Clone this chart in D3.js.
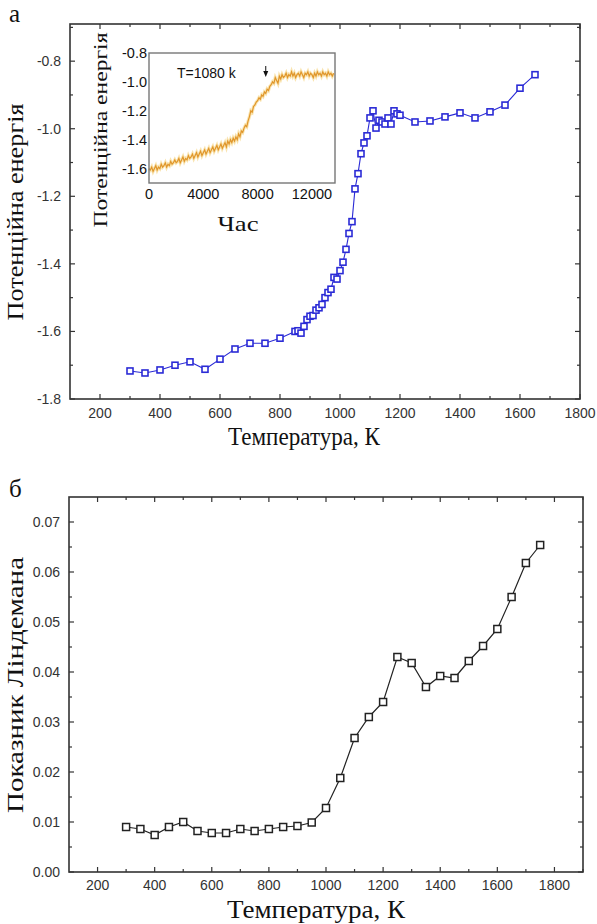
<!DOCTYPE html>
<html>
<head>
<meta charset="utf-8">
<script src="https://cdn.jsdelivr.net/npm/d3@7"></script>
<style>
  html, body { margin: 0; padding: 0; background: #fff; }
  svg { display: block; }
  .tick-lbl { font-family: Arial, "Liberation Sans", sans-serif; font-size: 14px; fill: #333; }
  .serif { font-family: "Liberation Serif", "Times New Roman", serif; fill: #111; }
</style>
</head>
<body>
<svg id="fig" width="597" height="924"></svg>
<script>
// Panel (а): potential energy vs temperature
const tempA = [300, 350, 400, 450, 500, 550, 600, 650, 700, 750, 800, 850, 860, 870, 880, 890, 900, 910, 920, 930, 940, 950, 960, 970, 980, 990, 1000, 1010, 1020, 1030, 1040, 1050, 1060, 1070, 1080, 1090, 1100, 1110, 1120, 1130, 1140, 1150, 1160, 1170, 1180, 1190, 1200, 1250, 1300, 1350, 1400, 1450, 1500, 1550, 1600, 1650];
const energyA = [-1.717, -1.723, -1.714, -1.700, -1.690, -1.712, -1.682, -1.652, -1.635, -1.635, -1.620, -1.600, -1.598, -1.605, -1.585, -1.565, -1.555, -1.553, -1.537, -1.530, -1.520, -1.500, -1.485, -1.475, -1.440, -1.445, -1.420, -1.395, -1.357, -1.310, -1.275, -1.178, -1.133, -1.074, -1.042, -1.021, -0.968, -0.947, -0.998, -0.975, -0.980, -0.986, -0.968, -0.986, -0.947, -0.956, -0.960, -0.980, -0.977, -0.965, -0.953, -0.968, -0.950, -0.930, -0.880, -0.840];
const xTicksA = [200, 400, 600, 800, 1000, 1200, 1400, 1600, 1800];
const yTicksA = [-1.8, -1.6, -1.4, -1.2, -1.0, -0.8];

// Inset: energy vs simulation time at T = 1080 K
const timeIn = [
  0, 100, 200, 300, 400, 500, 600, 700, 800, 900, 1000,
  1100, 1200, 1300, 1400, 1500, 1600, 1700, 1800, 1900, 2000,
  2100, 2200, 2300, 2400, 2500, 2600, 2700, 2800, 2900, 3000,
  3100, 3200, 3300, 3400, 3500, 3600, 3700, 3800, 3900, 4000,
  4100, 4200, 4300, 4400, 4500, 4600, 4700, 4800, 4900, 5000,
  5100, 5200, 5300, 5400, 5500, 5600, 5700, 5800, 5900, 6000,
  6100, 6200, 6300, 6400, 6500, 6600, 6700, 6800, 6900, 7000,
  7100, 7200, 7300, 7400, 7500, 7600, 7700, 7800, 7900, 8000,
  8100, 8200, 8300, 8400, 8500, 8600, 8700, 8800, 8900, 9000,
  9100, 9200, 9300, 9400, 9500, 9600, 9700, 9800, 9900, 10000,
  10100, 10200, 10300, 10400, 10500, 10600, 10700, 10800, 10900, 11000,
  11100, 11200, 11300, 11400, 11500, 11600, 11700, 11800, 11900, 12000,
  12100, 12200, 12300, 12400, 12500, 12600, 12700, 12800, 12900, 13000,
  13100, 13200, 13300, 13400, 13500, 13600];
const energyIn = [
  -1.60, -1.61, -1.59, -1.62, -1.60, -1.58, -1.61, -1.59, -1.60, -1.57, -1.59,
  -1.58, -1.56, -1.59, -1.57, -1.58, -1.55, -1.57, -1.56, -1.54, -1.56,
  -1.55, -1.53, -1.56, -1.54, -1.52, -1.55, -1.53, -1.54, -1.51, -1.53,
  -1.52, -1.50, -1.53, -1.51, -1.49, -1.52, -1.50, -1.48, -1.51, -1.49,
  -1.47, -1.50, -1.48, -1.46, -1.49, -1.47, -1.45, -1.48, -1.46, -1.44,
  -1.47, -1.45, -1.43, -1.46, -1.44, -1.42, -1.45, -1.41, -1.43, -1.40,
  -1.42, -1.39, -1.41, -1.38, -1.40, -1.36, -1.38, -1.34, -1.35, -1.32,
  -1.30, -1.31, -1.27, -1.24, -1.20, -1.21, -1.17, -1.16, -1.14, -1.13,
  -1.11, -1.12, -1.09, -1.10, -1.07, -1.08, -1.05, -1.06, -1.03, -1.02,
  -1.00, -1.01, -0.97, -0.99, -1.01, -0.96, -0.98, -0.95, -0.97, -0.96,
  -0.94, -0.97, -0.95, -0.96, -0.93, -0.96, -0.94, -0.97, -0.95, -0.94,
  -0.96, -0.93, -0.95, -0.97, -0.94, -0.95, -0.93, -0.96, -0.94, -0.95,
  -0.97, -0.94, -0.96, -0.93, -0.95, -0.94, -0.96, -0.93, -0.95, -0.94,
  -0.96, -0.93, -0.95, -0.94, -0.96, -0.94];
const xTicksIn = [0, 4000, 8000, 12000];
const yTicksIn = [-1.6, -1.4, -1.2, -1.0, -0.8];

// Panel (б): Lindemann index vs temperature
const tempB = [300, 350, 400, 450, 500, 550, 600, 650, 700, 750, 800, 850, 900, 950, 1000, 1050, 1100, 1150, 1200, 1250, 1300, 1350, 1400, 1450, 1500, 1550, 1600, 1650, 1700, 1750];
const lindB = [0.0090, 0.0086, 0.0074, 0.0090, 0.0100, 0.0082, 0.0078, 0.0078, 0.0086, 0.0082, 0.0086, 0.0090, 0.0092, 0.0099, 0.0128, 0.0188, 0.0268, 0.0310, 0.0340, 0.0430, 0.0418, 0.0370, 0.0392, 0.0388, 0.0422, 0.0452, 0.0486, 0.0550, 0.0618, 0.0654];
const xTicksB = [200, 400, 600, 800, 1000, 1200, 1400, 1600, 1800];
const yTicksB = [0.00, 0.01, 0.02, 0.03, 0.04, 0.05, 0.06, 0.07];

const svg = d3.select("#fig");
const SERIF = "'Liberation Serif', 'Times New Roman', serif";

// Draws a framed plot box with inward ticks (optionally mirrored on top/right)
function frame(g, x, y, opt) {
  const [x0, x1] = x.range();
  const [y0, y1] = y.range(); // y0 bottom, y1 top
  const col = opt.color || "#333";
  const addXTicks = (vals, len) => {
    vals.forEach(v => {
      const px = x(v);
      g.append("line").attr("x1", px).attr("x2", px).attr("y1", y0).attr("y2", y0 - len).attr("stroke", col).attr("stroke-width", 1.2);
      if (opt.mirror) g.append("line").attr("x1", px).attr("x2", px).attr("y1", y1).attr("y2", y1 + len).attr("stroke", col).attr("stroke-width", 1.2);
    });
  };
  const addYTicks = (vals, len) => {
    vals.forEach(v => {
      const py = y(v);
      g.append("line").attr("x1", x0).attr("x2", x0 + len).attr("y1", py).attr("y2", py).attr("stroke", col).attr("stroke-width", 1.2);
      if (opt.mirror) g.append("line").attr("x1", x1).attr("x2", x1 - len).attr("y1", py).attr("y2", py).attr("stroke", col).attr("stroke-width", 1.2);
    });
  };
  if (opt.majorLen) {
    addXTicks(opt.xMajor, opt.majorLen);
    addYTicks(opt.yMajor, opt.majorLen);
  }
  if (opt.xMinor) addXTicks(opt.xMinor, opt.minorLen);
  if (opt.yMinor) addYTicks(opt.yMinor, opt.minorLen);

  g.append("rect").attr("x", x0).attr("y", y1).attr("width", x1 - x0).attr("height", y0 - y1)
    .attr("fill", "none").attr("stroke", col).attr("stroke-width", opt.frameWidth || 1.6);

  opt.xMajor.forEach(v => {
    g.append("text").attr("class", "tick-lbl").attr("x", x(v)).attr("y", y0 + opt.xLblDy)
      .attr("text-anchor", "middle").text(opt.xFmt(v));
  });
  opt.yMajor.forEach(v => {
    g.append("text").attr("class", "tick-lbl").attr("x", x0 - opt.yLblDx).attr("y", y(v))
      .attr("dy", "0.35em").attr("text-anchor", "end").text(opt.yFmt(v));
  });
}

function markers(g, xs, ys, x, y, size, color, sw, lineW) {
  const pts = xs.map((v, i) => [x(v), y(ys[i])]);
  g.append("path").attr("d", d3.line()(pts)).attr("fill", "none").attr("stroke", color).attr("stroke-width", lineW);
  g.selectAll(null).data(pts).enter().append("rect")
    .attr("x", d => d[0] - size / 2).attr("y", d => d[1] - size / 2)
    .attr("width", size).attr("height", size)
    .attr("fill", "#fff").attr("stroke", color).attr("stroke-width", sw);
}

// serif caption; optional fixed length along the text direction
function caption(g, txt, x, y, size, opts = {}) {
  const t = g.append("text").attr("x", x).attr("y", y)
    .style("font-family", SERIF).style("font-size", size + "px").style("fill", "#111")
    .attr("text-anchor", opts.anchor || "middle").text(txt);
  if (opts.rotate) t.attr("transform", `rotate(-90,${x},${y})`);
  if (opts.len) t.attr("textLength", opts.len).attr("lengthAdjust", "spacingAndGlyphs");
  return t;
}

const fmtDash = v => d3.format(".1f")(v).replace("−", "-");

// ---------- Panel а ----------
const xA = d3.scaleLinear().domain([100, 1800]).range([70, 580]);
const yA = d3.scaleLinear().domain([-1.8, -0.69]).range([399, 24]);
const gA = svg.append("g");
frame(gA, xA, yA, {
  xMajor: xTicksA, xMinor: [300, 500, 700, 900, 1100, 1300, 1500, 1700],
  yMajor: yTicksA, yMinor: [-1.7, -1.5, -1.3, -1.1, -0.9, -0.7],
  majorLen: 5, minorLen: 3, mirror: true,
  xLblDy: 19, yLblDx: 9,
  xFmt: d => d, yFmt: fmtDash
});
markers(gA, tempA, energyA, xA, yA, 6, "#2b2bd6", 1.6, 1.1);
caption(gA, "а", 9, 22, 25, { anchor: "start" });
caption(gA, "Температура, К", 304, 445, 25, { len: 152 });
caption(gA, "Потенційна енергія", 23, 212, 24, { rotate: true, len: 217 });

// ---------- Inset ----------
const xI = d3.scaleLinear().domain([0, 13700]).range([149, 335]);
const yI = d3.scaleLinear().domain([-1.7, -0.8]).range([183, 53]);
const gI = svg.append("g");
gI.append("rect").attr("x", 149).attr("y", 53).attr("width", 186).attr("height", 130).attr("fill", "#fff");
const inPts = timeIn.map((t, i) => [xI(t), yI(energyIn[i])]);
gI.append("path").attr("d", d3.line()(inPts)).attr("fill", "none").attr("stroke", "#f6d98f").attr("stroke-width", 3.2).attr("opacity", 0.7);
gI.append("path").attr("d", d3.line()(inPts)).attr("fill", "none").attr("stroke", "#e0962a").attr("stroke-width", 1.2);
frame(gI, xI, yI, {
  xMajor: xTicksIn, yMajor: yTicksIn,
  majorLen: 0, minorLen: 0, mirror: false, color: "#777", frameWidth: 1.4,
  xLblDy: 16, yLblDx: 2,
  xFmt: d => d, yFmt: fmtDash
});
gI.selectAll("text.tick-lbl").style("fill", "#111").style("font-size", "14.5px");
gI.append("text").attr("x", 177).attr("y", 78).style("font-family", "Arial, 'Liberation Sans', sans-serif")
  .style("font-size", "14px").style("fill", "#111").text("T=1080 k");
// arrow marking the onset of melting
const ax = xI(8600);
gI.append("line").attr("x1", ax).attr("x2", ax).attr("y1", 66).attr("y2", 73).attr("stroke", "#111").attr("stroke-width", 1);
gI.append("path").attr("d", `M${ax - 2.5},71 L${ax + 2.5},71 L${ax},77 Z`).attr("fill", "#111");
caption(gI, "Час", 238, 231, 22, { len: 41 });
caption(gI, "Потенційна енергія", 107, 130, 19, { rotate: true, len: 195 });

// ---------- Panel б ----------
const xB = d3.scaleLinear().domain([100, 1900]).range([69, 583]);
const yB = d3.scaleLinear().domain([0, 0.075]).range([872, 497]);
const gB = svg.append("g");
frame(gB, xB, yB, {
  xMajor: xTicksB, xMinor: [300, 500, 700, 900, 1100, 1300, 1500, 1700, 1900],
  yMajor: yTicksB, yMinor: [0.005, 0.015, 0.025, 0.035, 0.045, 0.055, 0.065],
  majorLen: 5, minorLen: 3, mirror: true,
  xLblDy: 18, yLblDx: 9,
  xFmt: d => d, yFmt: d3.format(".2f")
});
markers(gB, tempB, lindB, xB, yB, 7, "#222", 1.5, 1.2);
caption(gB, "б", 9, 497, 25, { anchor: "start" });
caption(gB, "Температура, К", 316, 918, 26, { len: 178 });
caption(gB, "Показник Ліндемана", 23, 685, 24, { rotate: true, len: 256 });
</script>
</body>
</html>
